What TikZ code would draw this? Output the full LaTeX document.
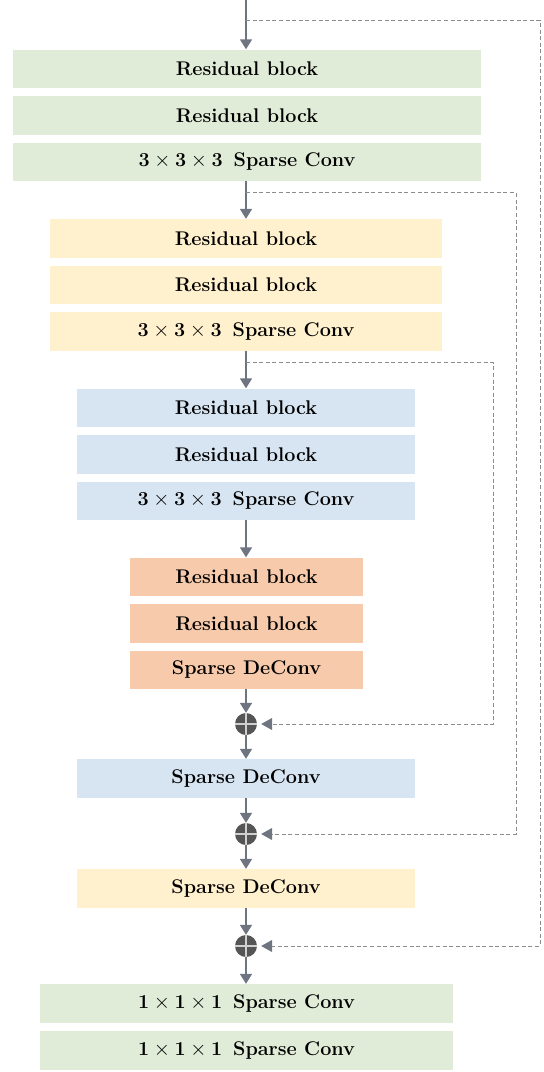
\documentclass[tikz,border=0pt]{standalone}
\usetikzlibrary{arrows.meta}
\definecolor{flow}{HTML}{6E7580}
\definecolor{skip}{HTML}{8C8C8C}
\definecolor{gfill}{HTML}{E0ECD7}
\definecolor{yfill}{HTML}{FFF1CE}
\definecolor{bfill}{HTML}{D7E5F2}
\definecolor{ofill}{HTML}{F6CAAA}
\definecolor{sumfill}{HTML}{555555}
\definecolor{sumcross}{HTML}{D0D0D0}
\newcommand{\kernel}[1]{#1${}\times{}$#1${}\times{}$#1\hspace{11pt}Sparse Conv}
\tikzset{
  layer/.style={draw=none, rectangle, inner sep=0pt, minimum height=38.5pt,
    font=\fontsize{19.8}{22}\selectfont\bfseries, text=black},
  greenbox/.style={layer, fill=gfill},
  yellowbox/.style={layer, fill=yfill},
  bluebox/.style={layer, fill=bfill},
  orangebox/.style={layer, fill=ofill},
  flowarrow/.style={draw=flow, line width=1.6pt,
    -{Triangle[width=12pt,length=10pt]}},
  skiparrow/.style={draw=skip, line width=1pt, dash pattern=on 4pt off 2.6pt,
    -{Triangle[width=12pt,length=11pt,color=flow]}, shorten >=4pt},
  sumnode/.style={circle, fill=sumfill, minimum size=22pt, inner sep=0pt,
    path picture={
      \draw[sumcross, line width=1.2pt]
        (path picture bounding box.north) -- (path picture bounding box.south)
        (path picture bounding box.west) -- (path picture bounding box.east);}},
}
\begin{document}
\begin{tikzpicture}[x=1pt,y=-1pt]
\useasboundingbox (0,0) rectangle (544,1072);

% encoder stage 1
\node[greenbox, minimum width=468pt] (g1) at (247,68.75) {Residual block};
\node[greenbox, minimum width=468pt] (g2) at (247,115.25) {Residual block};
\node[greenbox, minimum width=468pt] (g3) at (247,161.75) {\kernel{3}};
% encoder stage 2
\node[yellowbox, minimum width=392pt] (y1) at (246,238.25) {Residual block};
\node[yellowbox, minimum width=392pt] (y2) at (246,284.75) {Residual block};
\node[yellowbox, minimum width=392pt] (y3) at (246,331.25) {\kernel{3}};
% encoder stage 3
\node[bluebox, minimum width=338pt] (b1) at (246,407.75) {Residual block};
\node[bluebox, minimum width=338pt] (b2) at (246,454.25) {Residual block};
\node[bluebox, minimum width=338pt] (b3) at (246,500.75) {\kernel{3}};
% bottleneck
\node[orangebox, minimum width=233pt] (o1) at (246.5,576.75) {Residual block};
\node[orangebox, minimum width=233pt] (o2) at (246.5,623.25) {Residual block};
\node[orangebox, minimum width=233pt] (o3) at (246.5,669.75) {Sparse DeConv};
% decoder
\node[sumnode] (s1) at (246,724) {};
\node[bluebox, minimum width=338pt] (bd) at (246,778.25) {Sparse DeConv};
\node[sumnode] (s2) at (246,834) {};
\node[yellowbox, minimum width=338pt] (yd) at (246,888.25) {Sparse DeConv};
\node[sumnode] (s3) at (246,946) {};
\node[greenbox, minimum width=413pt] (h1) at (246.5,1003.25) {\kernel{1}};
\node[greenbox, minimum width=413pt] (h2) at (246.5,1050.25) {\kernel{1}};

% main data path
\coordinate (in) at (246,0);
\draw[flowarrow] (in) -- (g1.north -| in);
\draw[flowarrow] (g3.south -| in) -- (y1.north -| in);
\draw[flowarrow] (y3.south -| in) -- (b1.north -| in);
\draw[flowarrow] (b3.south -| in) -- (o1.north -| in);
\draw[flowarrow] (o3.south -| in) -- (s1.north);
\draw[flowarrow] (s1.south) -- (bd.north -| in);
\draw[flowarrow] (bd.south -| in) -- (s2.north);
\draw[flowarrow] (s2.south) -- (yd.north -| in);
\draw[flowarrow] (yd.south -| in) -- (s3.north);
\draw[flowarrow] (s3.south) -- (h1.north -| in);

% skip connections
\coordinate (k1) at (246,20);
\coordinate (k2) at (246,192.5);
\coordinate (k3) at (246,362.5);
\draw[skiparrow] (k1) -- (540,20) |- (s3.east);
\draw[skiparrow] (k2) -- (516,192.5) |- (s2.east);
\draw[skiparrow] (k3) -- (493,362.5) |- (s1.east);
\end{tikzpicture}
\end{document}
